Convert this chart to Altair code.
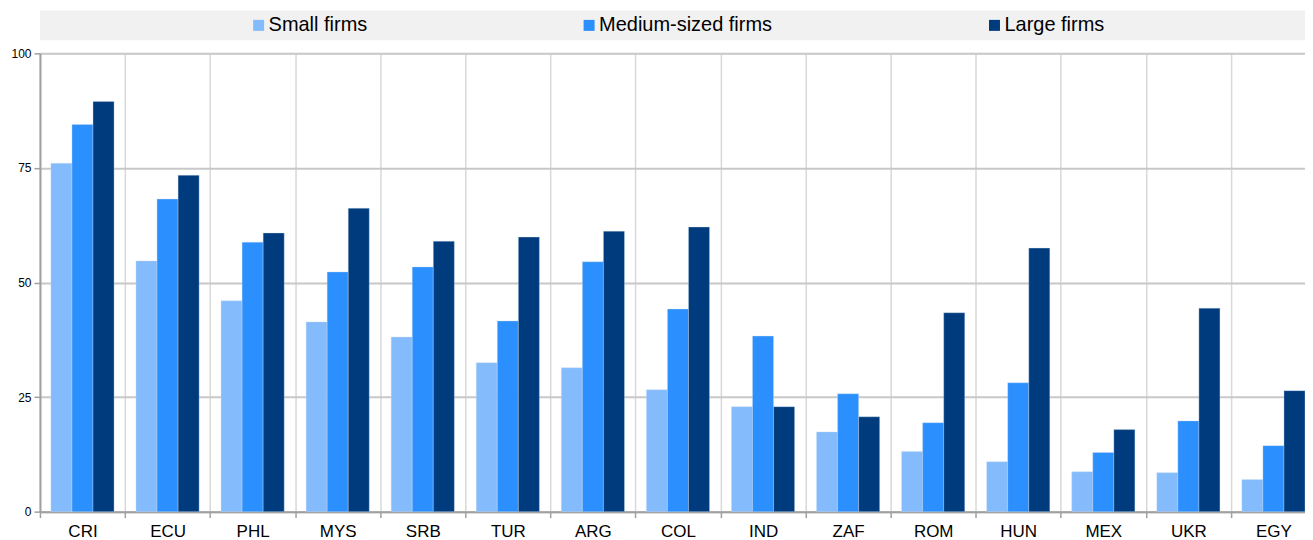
import altair as alt
import pandas as pd

countries = ["CRI", "ECU", "PHL", "MYS", "SRB", "TUR", "ARG", "COL", "IND", "ZAF", "ROM", "HUN", "MEX", "UKR", "EGY"]
series = ["Small firms", "Medium-sized firms", "Large firms"]
small = [76.0, 54.7, 46.0, 41.4, 38.1, 32.5, 31.4, 26.6, 22.9, 17.4, 13.1, 10.9, 8.7, 8.5, 7.0]
medium = [84.5, 68.2, 58.8, 52.3, 53.4, 41.6, 54.5, 44.2, 38.3, 25.7, 19.4, 28.1, 12.9, 19.8, 14.4]
large = [89.5, 73.4, 60.8, 66.2, 59.0, 59.9, 61.2, 62.1, 22.9, 20.7, 43.4, 57.5, 17.9, 44.4, 26.4]
colors = ["#84bbfc", "#2b8ffd", "#003b7d"]
y_ticks = [0, 25, 50, 75, 100]

rows = []
for vals, s in zip([small, medium, large], series):
    for c, v in zip(countries, vals):
        rows.append({"country": c, "series": s, "value": v})
df = pd.DataFrame(rows)

W, H = 1278, 459
FONT = "Liberation Sans"

band = alt.Chart(pd.DataFrame({"k": [0]})).mark_rect(color="#f1f1f1").encode(
    x=alt.value(0), x2=alt.value(W), y=alt.value(-43), y2=alt.value(-13)
)

bars = alt.Chart(df).mark_bar(stroke="#c9dcf2", strokeWidth=0.6, strokeOpacity=0.6).encode(
    x=alt.X("country:N", sort=countries, title=None,
            scale=alt.Scale(paddingInner=0, paddingOuter=0),
            axis=alt.Axis(labelAngle=0, tickBand="extent", grid=True, gridColor="#d8d8d8",
                          gridWidth=1.5, domainColor="#a0a0a0", domainWidth=2,
                          tickColor="#a0a0a0", tickWidth=1.5, tickSize=6,
                          labelFont=FONT, labelFontSize=17, labelColor="#000000",
                          labelPadding=6)),
    xOffset=alt.XOffset("series:N", sort=series, scale=alt.Scale(paddingOuter=0.52, paddingInner=0)),
    y=alt.Y("value:Q", title=None, scale=alt.Scale(domain=[0, 100], nice=False),
            axis=alt.Axis(values=y_ticks, grid=True, gridColor="#c8c8c8", gridWidth=2,
                          domainColor="#a0a0a0", domainWidth=2, tickColor="#a0a0a0",
                          tickWidth=1.5, tickSize=6, labelFont=FONT, labelFontSize=12,
                          labelColor="#000000", labelPadding=3)),
    color=alt.Color("series:N", sort=series,
                    scale=alt.Scale(domain=series, range=colors),
                    legend=alt.Legend(title=None, orient="none", legendX=209, legendY=-38,
                                      direction="horizontal", columns=3, columnPadding=212,
                                      symbolType="square", symbolSize=121, symbolStrokeWidth=0,
                                      labelFont=FONT, labelFontSize=20, labelColor="#000000",
                                      labelOffset=0, labelLimit=400, padding=0)),
)

chart = alt.layer(band, bars).properties(
    width=W, height=H,
    padding={"left": 2, "top": 2, "right": -12, "bottom": 0},
).configure_view(fill="#f1f1f1", stroke=None).configure(background="#ffffff")

chart.save("out.html", embed_options={"renderer": "svg", "actions": False})
